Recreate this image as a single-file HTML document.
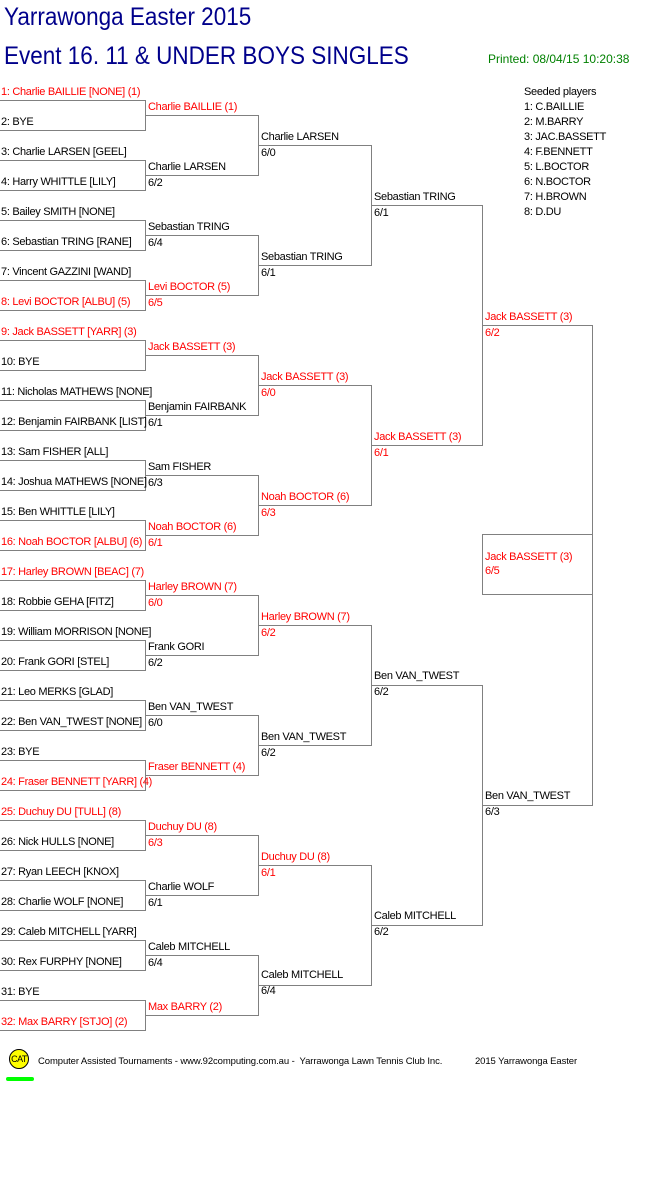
<!DOCTYPE html>
<html><head><meta charset="utf-8"><style>
body{margin:0;width:661px;height:1196px;background:#fff;position:relative;overflow:hidden;font-family:"Liberation Sans",Arial,sans-serif}
.t{position:absolute;font-size:11px;line-height:14px;white-space:nowrap;color:#000;letter-spacing:-0.3px;margin-top:1px}
.r{color:#f00}
svg{position:absolute;left:0;top:0}
.h{position:absolute;white-space:nowrap;color:#00008b;transform-origin:0 0;transform:scaleX(0.9);font-size:25px;line-height:28px}
</style></head><body>
<svg width="661" height="1196" shape-rendering="crispEdges"><g fill="none" stroke="#808080" stroke-width="1">
<path d="M0 100.5H145.5V130.5H0M0 160.5H145.5V190.5H0M0 220.5H145.5V250.5H0M0 280.5H145.5V310.5H0M0 340.5H145.5V370.5H0M0 400.5H145.5V430.5H0M0 460.5H145.5V490.5H0M0 520.5H145.5V550.5H0M0 580.5H145.5V610.5H0M0 640.5H145.5V670.5H0M0 700.5H145.5V730.5H0M0 760.5H145.5V790.5H0M0 820.5H145.5V850.5H0M0 880.5H145.5V910.5H0M0 940.5H145.5V970.5H0M0 1000.5H145.5V1030.5H0"/>
<path d="M145 115.5H258.5V175.5H145M145 235.5H258.5V295.5H145M145 355.5H258.5V415.5H145M145 475.5H258.5V535.5H145M145 595.5H258.5V655.5H145M145 715.5H258.5V775.5H145M145 835.5H258.5V895.5H145M145 955.5H258.5V1015.5H145"/>
<path d="M258 145.5H371.5V265.5H258M258 385.5H371.5V505.5H258M258 625.5H371.5V745.5H258M258 865.5H371.5V985.5H258"/>
<path d="M371 205.5H482.5V445.5H371M371 685.5H482.5V925.5H371"/>
<path d="M482 325.5H592.5V805.5H482"/>
<rect x="482.5" y="534.5" width="110" height="60"/>
</g></svg>
<div class="h" style="left:4px;top:3px">Yarrawonga Easter 2015</div>
<div class="h" style="left:4px;top:42px">Event 16. 11 &amp; UNDER BOYS SINGLES</div>
<div class="t" style="left:488px;top:51px;font-size:12px;color:#008000;letter-spacing:0">Printed: 08/04/15 10:20:38</div>

<div class="t" style="left:524px;top:84px">Seeded players</div>
<div class="t" style="left:524px;top:99px">1: C.BAILLIE</div>
<div class="t" style="left:524px;top:114px">2: M.BARRY</div>
<div class="t" style="left:524px;top:129px">3: JAC.BASSETT</div>
<div class="t" style="left:524px;top:144px">4: F.BENNETT</div>
<div class="t" style="left:524px;top:159px">5: L.BOCTOR</div>
<div class="t" style="left:524px;top:174px">6: N.BOCTOR</div>
<div class="t" style="left:524px;top:189px">7: H.BROWN</div>
<div class="t" style="left:524px;top:204px">8: D.DU</div>

<div class="t r" style="left:1px;top:84px">1: Charlie BAILLIE [NONE] (1)</div>
<div class="t" style="left:1px;top:114px">2: BYE</div>
<div class="t" style="left:1px;top:144px">3: Charlie LARSEN [GEEL]</div>
<div class="t" style="left:1px;top:174px">4: Harry WHITTLE [LILY]</div>
<div class="t" style="left:1px;top:204px">5: Bailey SMITH [NONE]</div>
<div class="t" style="left:1px;top:234px">6: Sebastian TRING [RANE]</div>
<div class="t" style="left:1px;top:264px">7: Vincent GAZZINI [WAND]</div>
<div class="t r" style="left:1px;top:294px">8: Levi BOCTOR [ALBU] (5)</div>
<div class="t r" style="left:1px;top:324px">9: Jack BASSETT [YARR] (3)</div>
<div class="t" style="left:1px;top:354px">10: BYE</div>
<div class="t" style="left:1px;top:384px">11: Nicholas MATHEWS [NONE]</div>
<div class="t" style="left:1px;top:414px">12: Benjamin FAIRBANK [LIST]</div>
<div class="t" style="left:1px;top:444px">13: Sam FISHER [ALL]</div>
<div class="t" style="left:1px;top:474px">14: Joshua MATHEWS [NONE]</div>
<div class="t" style="left:1px;top:504px">15: Ben WHITTLE [LILY]</div>
<div class="t r" style="left:1px;top:534px">16: Noah BOCTOR [ALBU] (6)</div>
<div class="t r" style="left:1px;top:564px">17: Harley BROWN [BEAC] (7)</div>
<div class="t" style="left:1px;top:594px">18: Robbie GEHA [FITZ]</div>
<div class="t" style="left:1px;top:624px">19: William MORRISON [NONE]</div>
<div class="t" style="left:1px;top:654px">20: Frank GORI [STEL]</div>
<div class="t" style="left:1px;top:684px">21: Leo MERKS [GLAD]</div>
<div class="t" style="left:1px;top:714px">22: Ben VAN_TWEST [NONE]</div>
<div class="t" style="left:1px;top:744px">23: BYE</div>
<div class="t r" style="left:1px;top:774px">24: Fraser BENNETT [YARR] (4)</div>
<div class="t r" style="left:1px;top:804px">25: Duchuy DU [TULL] (8)</div>
<div class="t" style="left:1px;top:834px">26: Nick HULLS [NONE]</div>
<div class="t" style="left:1px;top:864px">27: Ryan LEECH [KNOX]</div>
<div class="t" style="left:1px;top:894px">28: Charlie WOLF [NONE]</div>
<div class="t" style="left:1px;top:924px">29: Caleb MITCHELL [YARR]</div>
<div class="t" style="left:1px;top:954px">30: Rex FURPHY [NONE]</div>
<div class="t" style="left:1px;top:984px">31: BYE</div>
<div class="t r" style="left:1px;top:1014px">32: Max BARRY [STJO] (2)</div>

<div class="t r" style="left:148px;top:99px">Charlie BAILLIE (1)</div>
<div class="t" style="left:148px;top:159px">Charlie LARSEN</div><div class="t" style="left:148px;top:175px">6/2</div>
<div class="t" style="left:148px;top:219px">Sebastian TRING</div><div class="t" style="left:148px;top:235px">6/4</div>
<div class="t r" style="left:148px;top:279px">Levi BOCTOR (5)</div><div class="t r" style="left:148px;top:295px">6/5</div>
<div class="t r" style="left:148px;top:339px">Jack BASSETT (3)</div>
<div class="t" style="left:148px;top:399px">Benjamin FAIRBANK</div><div class="t" style="left:148px;top:415px">6/1</div>
<div class="t" style="left:148px;top:459px">Sam FISHER</div><div class="t" style="left:148px;top:475px">6/3</div>
<div class="t r" style="left:148px;top:519px">Noah BOCTOR (6)</div><div class="t r" style="left:148px;top:535px">6/1</div>
<div class="t r" style="left:148px;top:579px">Harley BROWN (7)</div><div class="t r" style="left:148px;top:595px">6/0</div>
<div class="t" style="left:148px;top:639px">Frank GORI</div><div class="t" style="left:148px;top:655px">6/2</div>
<div class="t" style="left:148px;top:699px">Ben VAN_TWEST</div><div class="t" style="left:148px;top:715px">6/0</div>
<div class="t r" style="left:148px;top:759px">Fraser BENNETT (4)</div>
<div class="t r" style="left:148px;top:819px">Duchuy DU (8)</div><div class="t r" style="left:148px;top:835px">6/3</div>
<div class="t" style="left:148px;top:879px">Charlie WOLF</div><div class="t" style="left:148px;top:895px">6/1</div>
<div class="t" style="left:148px;top:939px">Caleb MITCHELL</div><div class="t" style="left:148px;top:955px">6/4</div>
<div class="t r" style="left:148px;top:999px">Max BARRY (2)</div>

<div class="t" style="left:261px;top:129px">Charlie LARSEN</div><div class="t" style="left:261px;top:145px">6/0</div>
<div class="t" style="left:261px;top:249px">Sebastian TRING</div><div class="t" style="left:261px;top:265px">6/1</div>
<div class="t r" style="left:261px;top:369px">Jack BASSETT (3)</div><div class="t r" style="left:261px;top:385px">6/0</div>
<div class="t r" style="left:261px;top:489px">Noah BOCTOR (6)</div><div class="t r" style="left:261px;top:505px">6/3</div>
<div class="t r" style="left:261px;top:609px">Harley BROWN (7)</div><div class="t r" style="left:261px;top:625px">6/2</div>
<div class="t" style="left:261px;top:729px">Ben VAN_TWEST</div><div class="t" style="left:261px;top:745px">6/2</div>
<div class="t r" style="left:261px;top:849px">Duchuy DU (8)</div><div class="t r" style="left:261px;top:865px">6/1</div>
<div class="t" style="left:261px;top:967px">Caleb MITCHELL</div><div class="t" style="left:261px;top:983px">6/4</div>

<div class="t" style="left:374px;top:189px">Sebastian TRING</div><div class="t" style="left:374px;top:205px">6/1</div>
<div class="t r" style="left:374px;top:429px">Jack BASSETT (3)</div><div class="t r" style="left:374px;top:445px">6/1</div>
<div class="t" style="left:374px;top:668px">Ben VAN_TWEST</div><div class="t" style="left:374px;top:684px">6/2</div>
<div class="t" style="left:374px;top:908px">Caleb MITCHELL</div><div class="t" style="left:374px;top:924px">6/2</div>

<div class="t r" style="left:485px;top:309px">Jack BASSETT (3)</div><div class="t r" style="left:485px;top:325px">6/2</div>
<div class="t" style="left:485px;top:788px">Ben VAN_TWEST</div><div class="t" style="left:485px;top:804px">6/3</div>
<div class="t r" style="left:485px;top:549px">Jack BASSETT (3)</div><div class="t r" style="left:485px;top:563px">6/5</div>

<div style="position:absolute;left:9px;top:1049px;width:20px;height:20px;border-radius:50%;background:#ff0;border:1px solid #000;box-sizing:border-box;font-size:9px;line-height:18px;text-align:center;font-family:'Liberation Sans',sans-serif;letter-spacing:-0.5px">CAT</div>
<div style="position:absolute;left:6px;top:1077px;width:28px;height:4px;border-radius:2px;background:#0f0"></div>
<div class="t" style="left:38px;top:1054px;font-size:9.5px;letter-spacing:-0.1px">Computer Assisted Tournaments - www.92computing.com.au -&nbsp; Yarrawonga Lawn Tennis Club Inc.</div>
<div class="t" style="left:475px;top:1054px;font-size:9.5px;letter-spacing:-0.1px">2015 Yarrawonga Easter</div>
</body></html>
